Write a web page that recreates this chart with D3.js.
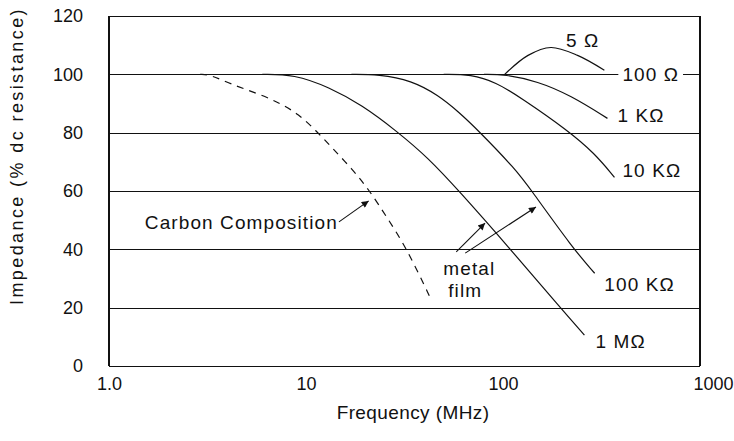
<!DOCTYPE html>
<html lang="en">
<head>
<meta charset="utf-8" />
<title>Resistor impedance vs frequency</title>
<style>
    body { margin: 0; background: #fff; }
    svg { display: block; }
    text { font-family: "Liberation Sans", Arial, Helvetica, sans-serif; fill: #111; }
    .axis text { font-size: 18px; }
    .axis path { display: none; }
    .grid line { stroke: #111; stroke-width: 1.3; shape-rendering: crispEdges; }
    .curve { fill: none; stroke: #111; stroke-width: 1.2; }
    .lbl { font-size: 19px; letter-spacing: 1.1px; }
</style>
</head>
<body>
<div id="chart"></div>
<script src="https://cdn.jsdelivr.net/npm/d3@7"></script>
<script>
    // axis ticks
    var freqTicks = [1, 10, 100, 1000];
    var freqTickLabels = ["1.0", "10", "100", "1000"];
    var impTicks = [0, 20, 40, 60, 80, 100, 120];

    // curves: frequency (MHz) / impedance (% of dc)
    var carbonFreq = [2.9, 3.3, 4.2, 5.6, 7.3, 9.2, 11.2, 13.5, 17.1, 20.8, 26, 32.4, 43.3];
    var carbonImp  = [100, 99.8, 96.5, 93.6, 90.3, 86.3, 80.8, 75, 67.6, 60.6, 50.5, 40.4, 22.6];

    var m1Freq = [6, 8.7, 13.1, 19.2, 28.8, 41.8, 59.3, 108, 194, 259];
    var m1Imp  = [100, 100, 95.6, 89.5, 80.6, 71.3, 60.3, 40.4, 20.2, 10.6];

    var k100Freq = [17, 23.4, 34.3, 47, 59.3, 74.8, 116, 138, 226, 292];
    var k100Imp  = [100, 100, 97.9, 92.8, 87.2, 80.8, 67.4, 60.6, 40.4, 31.8];

    var k10Freq = [50, 68.9, 92, 123, 213, 292, 368];
    var k10Imp  = [100, 100, 97.3, 92, 80.8, 72.9, 64.7];

    var k1Freq = [80, 102, 150, 220, 339];
    var k1Imp  = [100, 100, 97.6, 92.8, 84.9];

    var r5Freq = [102, 134, 175, 239, 327];
    var r5Imp  = [100, 106.5, 109.2, 106.5, 101.4];

    var margin = { top: 16, right: 34, bottom: 75, left: 109 },
        width = 734 - margin.left - margin.right,
        height = 441 - margin.top - margin.bottom;

    var x = d3.scaleLog().domain([1, 1000]).range([0, width]);
    var y = d3.scaleLinear().domain([0, 120]).range([height, 0]);

    var svg = d3.select("#chart").append("svg")
        .attr("width", 734)
        .attr("height", 441)
        .append("g")
        .attr("transform", "translate(" + margin.left + "," + margin.top + ")");

    // horizontal grid lines (also top and bottom of frame)
    svg.append("g")
        .attr("class", "grid")
        .call(d3.axisLeft(y).tickValues(impTicks).tickSize(-width).tickFormat(""))
        .select(".domain").remove();

    svg.append("g").attr("class", "grid")
        .selectAll("line")
        .data([1, 1000])
        .enter().append("line")
        .attr("x1", function (d) { return x(d); })
        .attr("x2", function (d) { return x(d); })
        .attr("y1", y(0))
        .attr("y2", y(120));

    svg.append("g")
        .attr("class", "axis")
        .call(d3.axisLeft(y).tickValues(impTicks).tickSize(0).tickPadding(26));

    var xAx = svg.append("g")
        .attr("class", "axis")
        .attr("transform", "translate(0," + height + ")")
        .call(d3.axisBottom(x).tickValues(freqTicks).tickSize(0).tickPadding(11)
            .tickFormat(function (d, i) { return freqTickLabels[i]; }));
    xAx.selectAll(".tick text").filter(function (d) { return d === 1000; })
        .attr("text-anchor", "end").attr("dx", 33);

    svg.append("text")
        .attr("class", "lbl")
        .attr("x", 304)
        .attr("y", height + 53)
        .attr("text-anchor", "middle")
        .style("letter-spacing", "0.4px")
        .text("Frequency (MHz)");

    svg.append("text")
        .attr("class", "lbl")
        .attr("transform", "translate(-86,140) rotate(-90)")
        .attr("text-anchor", "middle")
        .style("font-size", "18px")
        .style("letter-spacing", "2.4px")
        .text("Impedance (% dc resistance)");

    function series(fs, zs) {
        return fs.map(function (f, i) { return [f, zs[i]]; });
    }
    var line = d3.line()
        .x(function (d) { return x(d[0]); })
        .y(function (d) { return y(d[1]); })
        .curve(d3.curveBasis);
    var bump = d3.line()
        .x(function (d) { return x(d[0]); })
        .y(function (d) { return y(d[1]); })
        .curve(d3.curveCatmullRom.alpha(0.5));

    svg.append("path").attr("class", "curve").attr("stroke-dasharray", "7,6")
        .attr("d", line(series(carbonFreq, carbonImp)));
    [[m1Freq, m1Imp], [k100Freq, k100Imp], [k10Freq, k10Imp], [k1Freq, k1Imp]].forEach(function (s) {
        svg.append("path").attr("class", "curve").attr("d", line(series(s[0], s[1])));
    });
    svg.append("path").attr("class", "curve").attr("d", bump(series(r5Freq, r5Imp)));

    // curve labels
    var labels = [
        { t: "5 \u03A9", f: 254, z: 109.4, a: "middle" },
        { t: "1 K\u03A9", f: 381, z: 83.6 },
        { t: "10 K\u03A9", f: 404, z: 64.8 },
        { t: "100 K\u03A9", f: 327, z: 25.7 },
        { t: "1 M\u03A9", f: 295, z: 6.2 },
        { t: "Carbon Composition", f: 1.52, z: 47 },
        { t: "metal", f: 49.8, z: 31.2 },
        { t: "film", f: 52.7, z: 23.7 }
    ];
    svg.selectAll(".curvelbl")
        .data(labels)
        .enter().append("text")
        .attr("class", "lbl curvelbl")
        .attr("x", function (d) { return x(d.f); })
        .attr("y", function (d) { return y(d.z); })
        .attr("text-anchor", function (d) { return d.a || "start"; })
        .text(function (d) { return d.t; });

    // 100 ohm label sits on the 100% line
    svg.append("rect")
        .attr("x", x(385)).attr("y", y(100) - 12)
        .attr("width", x(820) - x(385)).attr("height", 22)
        .attr("fill", "#fff");
    svg.append("text").attr("class", "lbl")
        .attr("x", x(404)).attr("y", y(100) + 7)
        .text("100 \u03A9");

    // arrows
    svg.append("defs").append("marker")
        .attr("id", "ah").attr("viewBox", "0 0 10 10")
        .attr("refX", 10).attr("refY", 5)
        .attr("markerWidth", 11).attr("markerHeight", 7)
        .attr("markerUnits", "userSpaceOnUse")
        .attr("orient", "auto")
        .append("path").attr("d", "M0,0L10,5L0,10z").attr("fill", "#111");

    var arrows = [
        [[14.7, 49.4], [20.8, 56.6]],
        [[57.9, 39.1], [81.1, 49]],
        [[64.3, 38.7], [147, 54.5]]
    ];
    svg.selectAll(".arrow")
        .data(arrows)
        .enter().append("line")
        .attr("class", "arrow")
        .attr("x1", function (d) { return x(d[0][0]); })
        .attr("y1", function (d) { return y(d[0][1]); })
        .attr("x2", function (d) { return x(d[1][0]); })
        .attr("y2", function (d) { return y(d[1][1]); })
        .attr("stroke", "#111").attr("stroke-width", 1.1)
        .attr("marker-end", "url(#ah)");
</script>
</body>
</html>
